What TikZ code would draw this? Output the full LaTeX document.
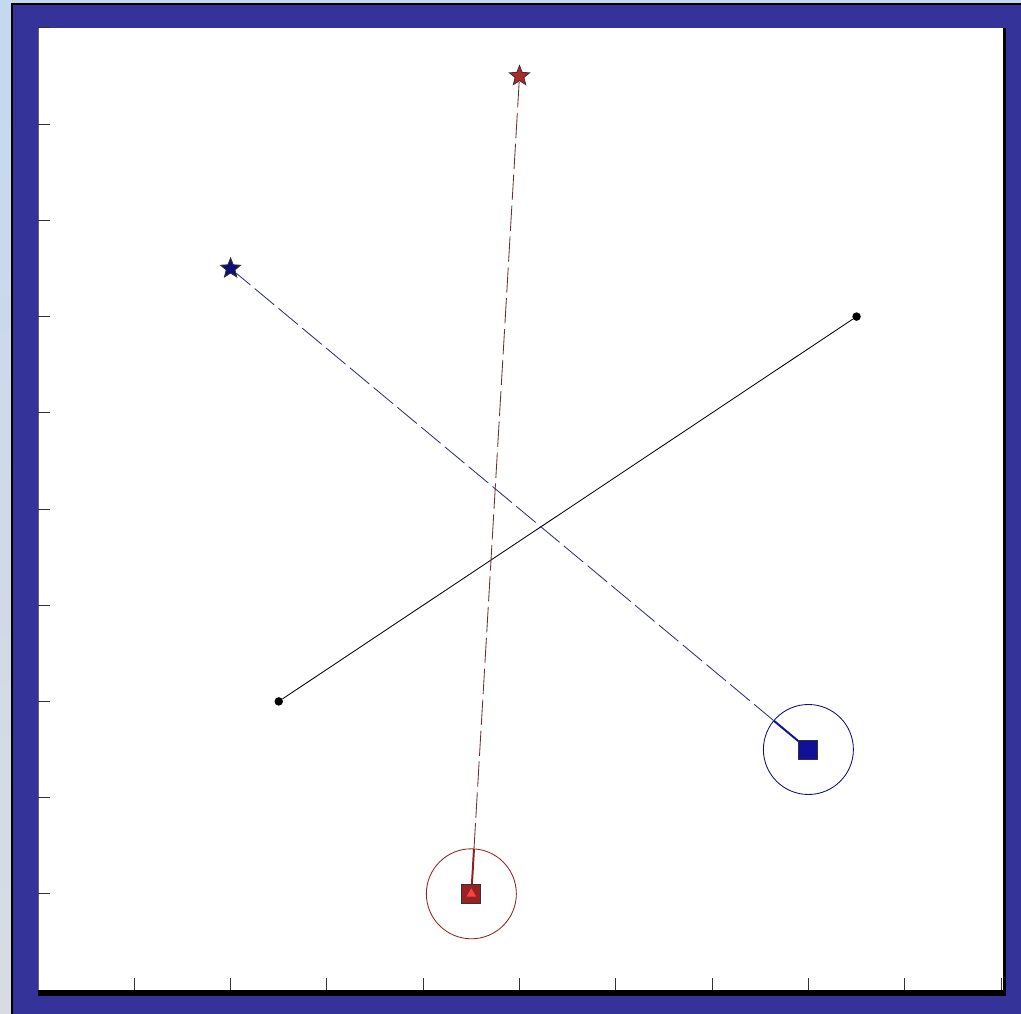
\documentclass[tikz,border=0pt]{standalone}
\usepackage{tikz}
\usetikzlibrary{shapes.geometric,calc}

\definecolor{framebl}{HTML}{333399}
\definecolor{skybl}{HTML}{C4D8EE}
\definecolor{cloudgr}{HTML}{D8DCE2}
\definecolor{redmk}{HTML}{B02828}
\definecolor{redln}{HTML}{6A3030}
\definecolor{bluemk}{HTML}{10109A}
\definecolor{blueln}{HTML}{303078}

\begin{document}
\begin{tikzpicture}[
  x=0.025cm, y=0.025cm,
  dotpt/.style={circle, fill=black, inner sep=0pt, minimum size=8.5*0.025cm},
  starmk/.style={star, star points=5, star point ratio=2.3, draw=black!80, line width=0.6pt, inner sep=0pt, minimum size=21*0.025cm},
  sqmk/.style={rectangle, draw=black!80, line width=0.6pt, inner sep=0pt, minimum size=19*0.025cm},
  ringmk/.style={circle, inner sep=0pt, line width=0.6pt, minimum size=90*0.025cm},
  trail/.style={line width=0.6pt, dash pattern=on 18pt off 4pt},
  link/.style={line width=1.4pt},
]
\useasboundingbox (0,0) rectangle (1021,1014);
% Window frame
\shade[top color=skybl, bottom color=cloudgr] (0,0) rectangle (1021,1014);
\fill[framebl] (12,0) rectangle (1021,1010);
\draw[black, line width=0.8pt] (12,0) -- (12,1010) -- (1021,1010);
\fill[white] (38,24) rectangle (1003,986);
\fill[black] (38,18) rectangle (1006,24);
\fill[black] (1003,18) rectangle (1006,986);
\draw[black!60, line width=0.6pt] (38.5,24) -- (38.5,986);
% Data area
\begin{scope}[shift={(38,24)}, x=96.3*0.025cm, y=96.2*0.025cm]
  % Ticks
  \foreach \t in {1,...,10} {
    \draw[black!80, line width=0.7pt] (0,\t) -- ++(12*0.025cm,0);
    \draw[black!80, line width=0.7pt] (\t,0) -- ++(0,12*0.025cm);
  }
  % Black segment
  \node[dotpt] (pa) at (2.5,3) {};
  \node[dotpt] (pb) at (8.5,7) {};
  \draw[black, line width=0.6pt] (pa) -- (pb);
  % Red track
  \node[ringmk, draw=redmk!85!black] (redring) at (4.5,1) {};
  \node[starmk, fill=redmk] (redstar) at (5,9.5) {};
  \draw[trail, redln] (redring) -- (redstar);
  \draw[link, redmk!80!black] (redring.center) -- ($(redring.center)!45*0.025cm!(redstar)$);
  \node[sqmk, fill=redmk!85!black] (redsq) at (4.5,1) {};
  \node[regular polygon, regular polygon sides=3, fill=red!75, inner sep=0pt, minimum size=11*0.025cm] (redtri) at (redsq) {};
  % Blue track
  \node[ringmk, draw=bluemk!80!black] (bluering) at (8,2.5) {};
  \node[starmk, fill=bluemk!80!black] (bluestar) at (2,7.5) {};
  \draw[trail, blueln] (bluering) -- (bluestar);
  \draw[link, bluemk] (bluering.center) -- ($(bluering.center)!45*0.025cm!(bluestar)$);
  \node[sqmk, fill=bluemk] (bluesq) at (8,2.5) {};
\end{scope}
\end{tikzpicture}
\end{document}
